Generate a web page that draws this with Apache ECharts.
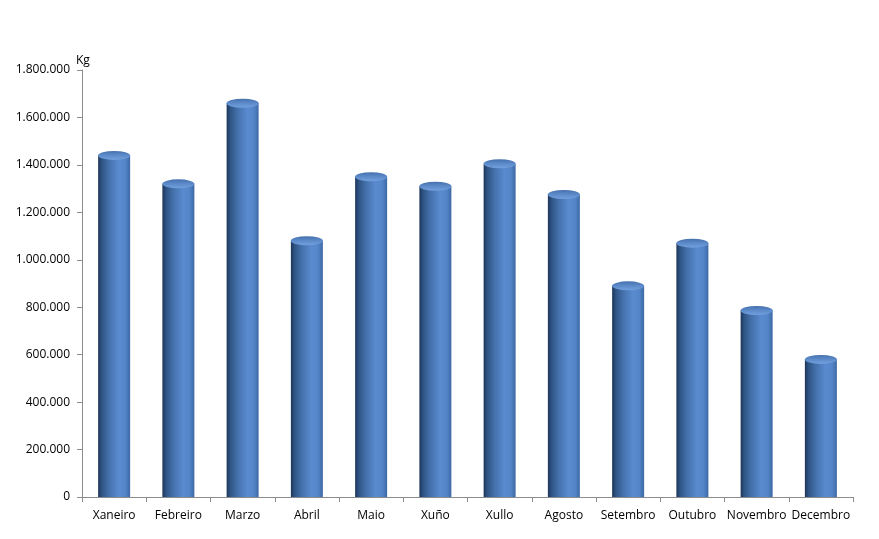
<!DOCTYPE html>
<html>
<head>
<meta charset="utf-8">
<script src="https://cdn.jsdelivr.net/npm/echarts@6/dist/echarts.min.js"></script>
<style>html,body{margin:0;padding:0;background:#fff}#c{width:879px;height:539px}</style>
</head>
<body>
<div id="c"></div>
<script>
const categories = ['Xaneiro','Febreiro','Marzo','Abril','Maio','Xuño','Xullo','Agosto','Setembro','Outubro','Novembro','Decembro'];
const kgValues = [1440000, 1320000, 1660000, 1080000, 1350000, 1310000, 1405000, 1275000, 890000, 1070000, 786000, 580000];
const yTicks = {min: 0, max: 1800000, interval: 200000};
const unitLabel = 'Kg';

function fmt(v){ return String(v).replace(/\B(?=(\d{3})+(?!\d))/g, '.'); }

const bodyGrad = new echarts.graphic.LinearGradient(0,0,1,0,[
  {offset:0, color:'#1e3659'},
  {offset:0.12, color:'#2f5585'},
  {offset:0.35, color:'#4572ad'},
  {offset:0.65, color:'#5a8bd0'},
  {offset:0.85, color:'#5485c8'},
  {offset:1, color:'#3d69a5'}
]);
const capGrad = new echarts.graphic.LinearGradient(0,0,0,1,[
  {offset:0, color:'#4571ad'},
  {offset:0.5, color:'#5d8bca'},
  {offset:1, color:'#72a0dd'}
]);

const chart = echarts.init(document.getElementById('c'));
chart.setOption({
  animation: false,
  grid: {left: 82, right: 26, top: 70, bottom: 42},
  xAxis: {
    type: 'category',
    data: categories,
    axisLine: {lineStyle: {color: '#8c8c8c', width: 1}},
    axisTick: {show: true, alignWithLabel: false, length: 5, lineStyle: {color: '#8c8c8c'}},
    axisLabel: {color: '#000', fontSize: 12, fontFamily: 'Open Sans', margin: 13, interval: 0}
  },
  yAxis: {
    type: 'value',
    min: yTicks.min, max: yTicks.max, interval: yTicks.interval,
    name: unitLabel,
    nameLocation: 'end',
    nameGap: 3,
    nameTextStyle: {color: '#000', fontSize: 12, fontFamily: 'Open Sans', align: 'left', padding: [0, 0, 0, -6]},
    axisLine: {show: true, lineStyle: {color: '#8c8c8c', width: 1}},
    axisTick: {show: true, length: 5, lineStyle: {color: '#8c8c8c'}},
    splitLine: {show: false},
    axisLabel: {color: '#000', fontSize: 12, fontFamily: 'Open Sans', margin: 12, formatter: fmt}
  },
  series: [
    {
      type: 'bar',
      data: kgValues,
      barWidth: 32,
      itemStyle: {color: bodyGrad},
      z: 2
    },
    {
      type: 'pictorialBar',
      data: kgValues,
      symbol: 'circle',
      symbolSize: [32, 9],
      symbolPosition: 'end',
      symbolOffset: [0, '-50%'],
      itemStyle: {color: capGrad},
      z: 3
    }
  ]
});
</script>
</body>
</html>
